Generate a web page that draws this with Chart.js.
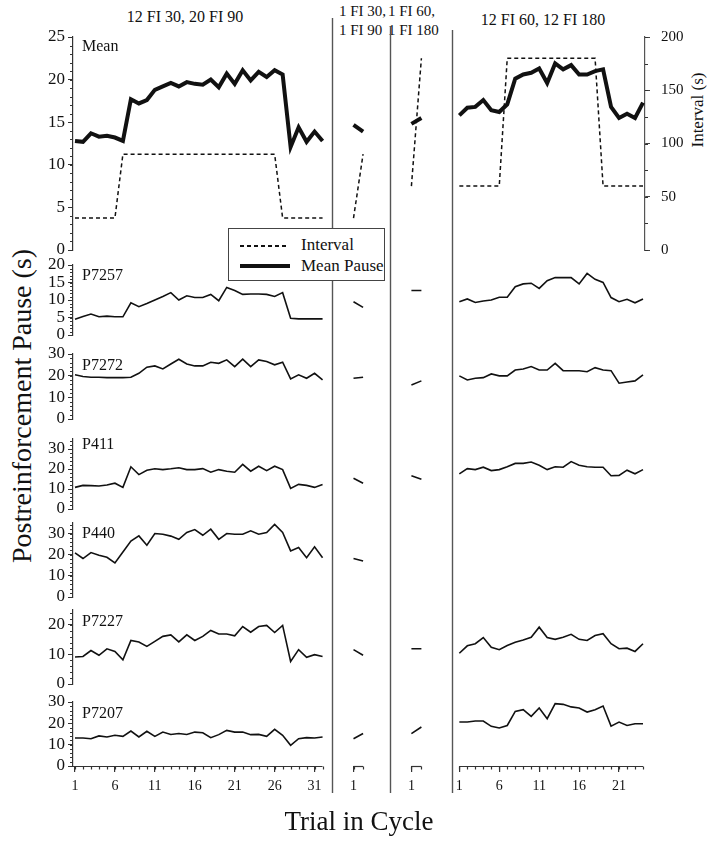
<!DOCTYPE html>
<html>
<head>
<meta charset="utf-8">
<script src="https://cdn.jsdelivr.net/npm/chart.js@4.4.1/dist/chart.umd.min.js"></script>
<style>
  html, body { margin: 0; padding: 0; background: #fff; }
  #wrap { position: relative; width: 710px; height: 846px; overflow: hidden;
          font-family: "Liberation Serif", "Times New Roman", serif; color: #111; }
  .cv { position: absolute; left: 0; }
  .txt { position: absolute; white-space: nowrap; }
  #legend { position: absolute; left: 228px; top: 228px; width: 155px; height: 51px;
            border: 1px solid #444; background: #fff; z-index: 5; }
  #legend .t { position: absolute; font-size: 17px; line-height: 20px; }
</style>
</head>
<body>
<div id="wrap">
  <div class="txt" style="left:185px;top:7px;font-size:16px;line-height:20px;transform:translateX(-50%);">12 FI 30, 20 FI 90</div>
  <div class="txt" style="left:339px;top:2px;font-size:15px;line-height:19px;">1 FI 30,<br>1 FI 90</div>
  <div class="txt" style="left:388px;top:2px;font-size:15px;line-height:19px;">1 FI 60,<br>1 FI 180</div>
  <div class="txt" style="left:543px;top:10px;font-size:16px;line-height:20px;transform:translateX(-50%);">12 FI 60, 12 FI 180</div>
  <div class="txt" style="left:-178px;top:390px;width:400px;text-align:center;font-size:28px;line-height:32px;transform:rotate(-90deg);">Postreinforcement Pause (s)</div>
  <div class="txt" style="left:638px;top:100px;width:120px;text-align:center;font-size:17px;line-height:20px;transform:rotate(-90deg);">Interval (s)</div>
  <div id="legend">
    <div style="position:absolute;left:11px;top:16px;width:46px;height:1.5px;background:repeating-linear-gradient(90deg,#111 0 4px,transparent 4px 7px);"></div>
    <div class="t" style="left:72px;top:6px;">Interval</div>
    <div style="position:absolute;left:11px;top:35px;width:50px;height:4px;background:#111;"></div>
    <div class="t" style="left:72px;top:27px;">Mean Pause</div>
  </div>
</div>
<script>
// ---------------- data ----------------
// Sections: A = 12 FI 30, 20 FI 90 (32 trials); B = 1 FI 30, 1 FI 90; C = 1 FI 60, 1 FI 180; D = 12 FI 60, 12 FI 180 (24 trials)
const intervalA = [30,30,30,30,30,30,90,90,90,90,90,90,90,90,90,90,90,90,90,90,90,90,90,90,90,90,30,30,30,30,30,30];
const intervalB = [30,90];
const intervalC = [60,180];
const intervalD = [60,60,60,60,60,60,180,180,180,180,180,180,180,180,180,180,180,180,60,60,60,60,60,60];

const meanA = [12.8,12.7,13.7,13.3,13.4,13.2,12.8,17.7,17.2,17.6,18.8,19.2,19.6,19.2,19.7,19.5,19.4,20.0,19.1,20.7,19.5,21.1,19.9,20.9,20.3,21.1,20.6,12.1,14.4,12.7,13.9,12.8];
const meanB = [14.7,13.9];
const meanC = [14.8,15.5];
const meanD = [15.8,16.7,16.8,17.6,16.4,16.2,17.1,20.1,20.6,20.8,21.3,19.6,21.9,21.2,21.7,20.6,20.6,21.0,21.2,16.8,15.5,16.0,15.5,17.3];

const p7257A = [4.5,5.3,6.0,5.2,5.4,5.2,5.2,9.2,8.1,9.0,10.0,11.0,12.1,10.0,11.2,10.7,10.7,11.6,9.8,13.6,12.7,11.6,11.7,11.7,11.6,11.0,12.1,4.8,4.6,4.6,4.6,4.6];
const p7257B = [9.5,7.9];
const p7257C = [12.7,12.7];
const p7257D = [9.5,10.3,9.3,9.7,10.0,10.8,10.8,13.8,14.6,14.8,13.3,15.5,16.4,16.4,16.4,14.6,17.6,15.9,15.0,10.7,9.5,10.2,9.2,10.3];

const p7272A = [20.4,19.6,19.3,19.3,19.1,19.1,19.1,19.3,21.1,23.9,24.5,23.1,25.4,27.6,25.4,24.5,24.5,26.2,25.7,27.3,24.2,27.6,24.2,27.3,26.5,25.0,26.2,18.5,20.4,18.8,21.1,18.1];
const p7272B = [18.8,19.3];
const p7272C = [15.7,17.6];
const p7272D = [19.9,18.0,18.8,19.1,20.8,19.9,19.9,22.6,23.1,24.2,22.6,22.6,25.7,22.3,22.3,22.3,21.8,23.7,22.6,22.3,16.5,17.1,17.6,20.4];

const p411A = [10.8,11.8,11.7,11.5,12.0,12.9,10.8,21.1,17.2,19.4,20.1,19.7,20.1,20.6,19.7,19.7,20.2,18.4,19.7,18.9,18.4,22.3,18.9,21.4,19.2,21.4,19.7,10.3,12.3,11.8,10.8,12.3];
const p411B = [15.4,12.9];
const p411C = [16.6,14.9];
const p411D = [17.6,20.2,19.7,20.9,19.2,19.7,21.1,22.8,22.8,23.5,21.9,19.7,21.1,20.9,23.7,21.9,21.1,20.9,20.9,16.6,16.8,19.4,17.6,19.7];

const p440A = [20.9,18.2,21.0,19.7,18.8,16.1,21.3,26.5,28.9,24.5,30.0,29.7,28.8,27.3,30.5,31.9,29.2,32.1,27.3,30.0,29.7,29.7,31.3,29.7,30.5,34.3,30.5,21.8,23.4,18.6,23.7,18.6];
const p440B = [18.2,17.0];
const p440C = [];
const p440D = [];

const p7227A = [9.1,9.3,11.3,9.7,11.9,11.0,8.2,14.7,14.2,12.7,14.4,16.1,16.6,14.2,16.6,14.7,16.1,18.1,16.9,16.9,16.3,19.4,17.5,19.4,19.8,17.4,19.8,7.6,11.6,9.0,9.9,9.3];
const p7227B = [11.6,9.7];
const p7227C = [11.9,11.9];
const p7227D = [10.4,12.9,13.6,15.7,12.4,11.6,13.0,14.1,14.9,15.8,19.2,15.7,15.1,15.8,16.8,15.1,14.7,16.4,17.0,13.6,11.9,12.1,11.0,13.6];

const p7207A = [13.1,13.1,12.8,14.1,13.6,14.4,13.9,16.4,13.6,16.3,13.9,15.9,14.8,15.2,14.8,15.9,15.6,13.3,14.7,16.7,15.9,15.9,14.7,14.8,13.9,17.2,14.4,9.7,12.8,13.3,13.1,13.6];
const p7207B = [12.8,15.2];
const p7207C = [15.2,18.3];
const p7207D = [20.6,20.6,21.1,21.1,18.6,17.8,19.0,25.6,26.4,23.3,27.2,22.2,29.2,28.9,27.7,27.2,25.3,26.4,28.1,18.7,20.6,19.0,19.8,19.8];

// tick labels
const yTicksMean = [0,5,10,15,20,25];
const yTicksInterval = [0,50,100,150,200];
const yTicks20 = [0,5,10,15,20];
const yTicks30 = [0,10,20,30];
const yTicks25 = [0,10,20];
const xTicksA = [1,6,11,16,21,26,31];
const xTicksB = [1];
const xTicksC = [1];
const xTicksD = [1,6,11,16,21];

// ---------------- layout ----------------
const FONT = '"Liberation Serif", "Times New Roman", serif';
const XMIN = 0.75, XMAX = 72.375;
const SEC = { A:{start:1, step:1}, B:{start:35.875, step:1.2}, C:{start:43.125, step:1.25}, D:{start:49.125, step:1} };
const SEC_ORDER = ['A','B','C','D'];
const SEP_X = [33.125, 40.5, 48.25];
const SEP_TOP = [18, 26, 30];
const SEP_BOTTOM = 793;
const CHART_LEFT = 73, RIGHT_GAP = 65, PAGE_H = 846;

function secX(s, i) { return SEC[s].start + i * SEC[s].step; }
function buildPoints(parts) {
  const pts = [];
  SEC_ORDER.forEach(s => {
    const arr = parts[s];
    if (!arr || !arr.length) return;
    if (pts.length) pts.push({x: secX(s, 0) - 0.5, y: null});
    arr.forEach((v, i) => pts.push({x: secX(s, i), y: v}));
  });
  return pts;
}
const X_TICKS = [];
[['A', xTicksA], ['B', xTicksB], ['C', xTicksC], ['D', xTicksD]].forEach(([s, arr]) =>
  arr.forEach(t => X_TICKS.push({pos: secX(s, t - 1), label: String(t)})));
const TRIALS = {A: meanA.length, B: meanB.length, C: meanC.length, D: meanD.length};

const ROWS = [
  {name:'Mean',  parts:{A:meanA,B:meanB,C:meanC,D:meanD}, max:25, ticks:yTicksMean, minor:1, top:35,  bottom:252, band:[0,258],   dy:10},
  {name:'P7257', parts:{A:p7257A,B:p7257B,C:p7257C,D:p7257D}, max:20, ticks:yTicks20, minor:1, top:265, bottom:335, band:[258,344], dy:11},
  {name:'P7272', parts:{A:p7272A,B:p7272B,C:p7272C,D:p7272D}, max:30, ticks:yTicks30, minor:2, top:354, bottom:419, band:[344,428], dy:12},
  {name:'P411',  parts:{A:p411A,B:p411B,C:p411C,D:p411D}, max:35, ticks:yTicks30, minor:2, top:439, bottom:509, band:[428,516], dy:6},
  {name:'P440',  parts:{A:p440A,B:p440B,C:p440C,D:p440D}, max:35, ticks:yTicks30, minor:2, top:523, bottom:597, band:[516,603], dy:11},
  {name:'P7227', parts:{A:p7227A,B:p7227B,C:p7227C,D:p7227D}, max:25, ticks:yTicks25, minor:2, top:610, bottom:684, band:[603,693], dy:12},
  {name:'P7207', parts:{A:p7207A,B:p7207B,C:p7207C,D:p7207D}, max:30, ticks:yTicks30, minor:2, top:702, bottom:766, band:[693,846], dy:12}
];

const decoPlugin = {
  id: 'deco',
  afterDraw(chart, args, o) {
    const ctx = chart.ctx, xs = chart.scales.x, ys = chart.scales.y, a = chart.chartArea;
    ctx.save();
    // vertical separators between condition blocks
    ctx.strokeStyle = '#555'; ctx.lineWidth = 1.4;
    SEP_X.forEach((v, i) => {
      const px = Math.round(xs.getPixelForValue(v)) + 0.5;
      const y0 = Math.max(o.band[0], SEP_TOP[i]) - o.canvasTop;
      const y1 = Math.min(o.band[1], SEP_BOTTOM) - o.canvasTop;
      if (y1 > y0) { ctx.beginPath(); ctx.moveTo(px, y0); ctx.lineTo(px, y1); ctx.stroke(); }
    });
    // minor y ticks
    ctx.strokeStyle = '#333'; ctx.lineWidth = 1;
    for (let v = 0; v <= ys.max + 1e-9; v += o.minor) {
      const py = Math.round(ys.getPixelForValue(v)) + 0.5;
      ctx.beginPath(); ctx.moveTo(a.left - 3, py); ctx.lineTo(a.left, py); ctx.stroke();
    }
    if (chart.scales.y2) {
      const y2 = chart.scales.y2;
      for (let v = 0; v <= y2.max; v += 25) {
        const py = Math.round(y2.getPixelForValue(v)) + 0.5;
        ctx.beginPath(); ctx.moveTo(a.right, py); ctx.lineTo(a.right + 3, py); ctx.stroke();
      }
    }
    // x axis segments for each block
    if (o.xAxis) {
      const yb = Math.round(a.bottom) + 0.5;
      ctx.strokeStyle = '#333'; ctx.lineWidth = 1.2;
      SEC_ORDER.forEach(s => {
        const n = TRIALS[s];
        const x0 = xs.getPixelForValue(s === 'A' ? XMIN : secX(s, 0));
        const x1 = xs.getPixelForValue(secX(s, n - 1));
        ctx.beginPath(); ctx.moveTo(x0, yb); ctx.lineTo(x1, yb); ctx.stroke();
        for (let i = 0; i < n; i++) {
          const px = Math.round(xs.getPixelForValue(secX(s, i))) + 0.5;
          ctx.beginPath(); ctx.moveTo(px, yb); ctx.lineTo(px, yb + 3); ctx.stroke();
        }
      });
    }
    // panel label
    ctx.fillStyle = '#111';
    ctx.font = '16px ' + FONT;
    ctx.textBaseline = 'middle'; ctx.textAlign = 'left';
    ctx.fillText(o.label, a.left + 9, a.top + o.dy);
    ctx.restore();
  }
};

const wrap = document.getElementById('wrap');
ROWS.forEach((row, idx) => {
  const isMean = idx === 0;
  const isLast = idx === ROWS.length - 1;
  const cTop = Math.max(0, row.top - 18);
  const cBottom = isLast ? PAGE_H : row.bottom + 18;
  const canvas = document.createElement('canvas');
  canvas.className = 'cv';
  canvas.style.top = cTop + 'px';
  canvas.width = 710; canvas.height = cBottom - cTop;
  canvas.style.width = '710px'; canvas.style.height = (cBottom - cTop) + 'px';
  wrap.appendChild(canvas);

  const datasets = [];
  if (isMean) {
    datasets.push({label:'Interval', data: buildPoints({A:intervalA,B:intervalB,C:intervalC,D:intervalD}),
      yAxisID:'y2', borderColor:'#111', borderWidth:1.5, borderDash:[4,3], pointRadius:0, fill:false});
    datasets.push({label:'Mean Pause', data: buildPoints(row.parts), yAxisID:'y',
      borderColor:'#111', borderWidth:4, pointRadius:0, fill:false});
  } else {
    datasets.push({label: row.name, data: buildPoints(row.parts), yAxisID:'y',
      borderColor:'#111', borderWidth:1.6, pointRadius:0, fill:false});
  }

  const scales = {
    x: {
      type:'linear', min:XMIN, max:XMAX, display:isLast,
      afterBuildTicks: s => { s.ticks = X_TICKS.map(t => ({value: t.pos})); },
      afterFit: s => { if (isLast) s.height = PAGE_H - row.bottom; },
      grid:{drawOnChartArea:false, drawTicks:true, tickLength:6, color:'#333', lineWidth:1.2},
      border:{display:false},
      ticks:{autoSkip:false, maxRotation:0, color:'#111', padding:6,
             font:{family:FONT, size:14}, callback:(v, i) => X_TICKS[i] ? X_TICKS[i].label : ''},
      title:{display:true, text:'Trial in Cycle', color:'#111', font:{family:FONT, size:27},
             padding:{top:0, bottom:7}}
    },
    y: {
      position:'left', min:0, max:row.max,
      afterBuildTicks: s => { s.ticks = row.ticks.map(v => ({value: v})); },
      afterFit: s => { s.width = CHART_LEFT; },
      grid:{drawOnChartArea:false, drawTicks:true, tickLength:5, color:'#333'},
      border:{display:true, color:'#333', width:1.2},
      ticks:{autoSkip:false, color:'#111', padding:3, font:{family:FONT, size:17}}
    }
  };
  if (isMean) {
    scales.y2 = {
      position:'right', min:0, max:200,
      afterBuildTicks: s => { s.ticks = yTicksInterval.map(v => ({value: v})); },
      afterFit: s => { s.width = RIGHT_GAP; },
      grid:{drawOnChartArea:false, drawTicks:true, tickLength:5, color:'#444'},
      border:{display:true, color:'#555', width:1.2},
      ticks:{autoSkip:false, color:'#111', padding:11, font:{family:FONT, size:15}}
    };
  }

  new Chart(canvas, {
    type:'line',
    data:{datasets},
    options:{
      responsive:false, animation:false, events:[],
      parsing:true, spanGaps:false,
      layout:{padding:{left:0, right: isMean ? 0 : RIGHT_GAP, top: row.top - cTop,
                       bottom: isLast ? 0 : cBottom - row.bottom}},
      elements:{line:{tension:0}, point:{radius:0}},
      plugins:{legend:{display:false}, tooltip:{enabled:false},
               deco:{label:row.name, dy:row.dy, minor:row.minor, band:row.band, canvasTop:cTop, xAxis:isLast}},
      scales
    },
    plugins:[decoPlugin]
  });
});
</script>
</body>
</html>
